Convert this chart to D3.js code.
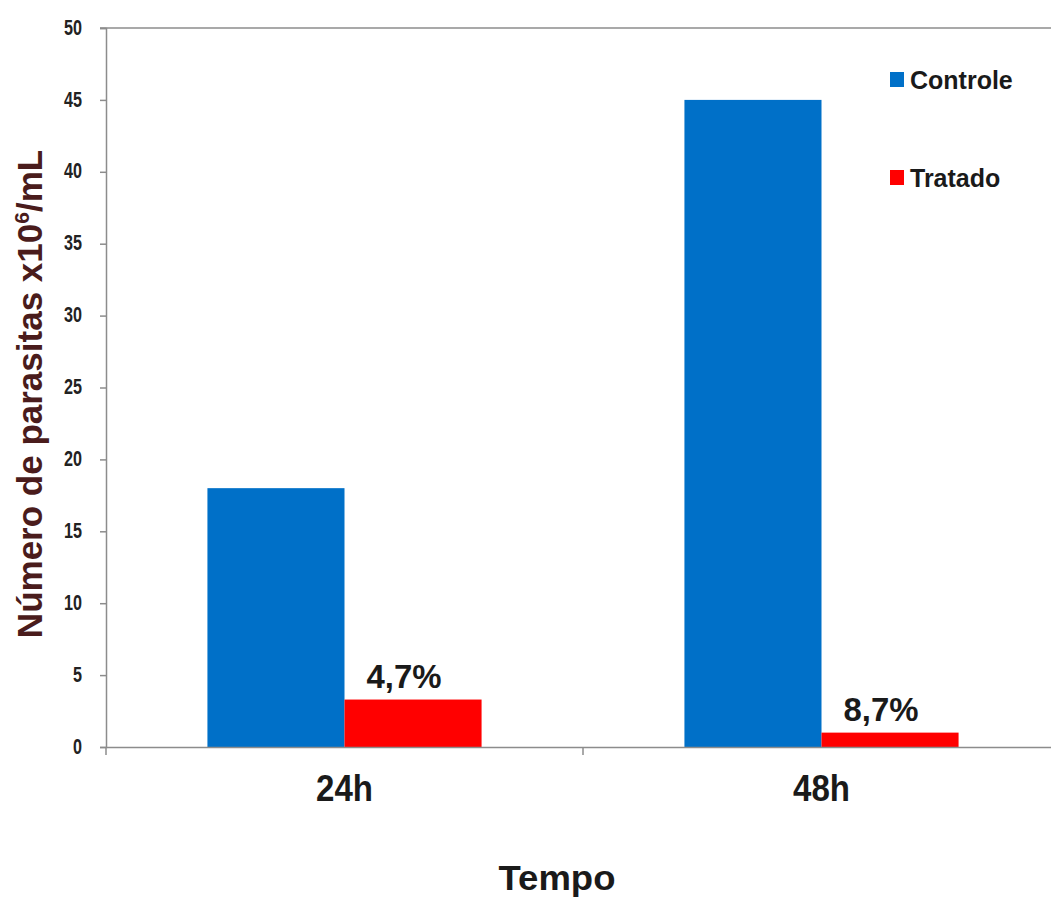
<!DOCTYPE html>
<html>
<head>
<meta charset="utf-8">
<script src="https://cdn.jsdelivr.net/npm/d3@7"></script>
<style>
  body { margin: 0; background: #fff; }
  svg { display: block; }
  text { font-family: "Liberation Sans", Arial, sans-serif; }
</style>
</head>
<body>
<svg id="chart" width="1051" height="897"></svg>
<script>
// data
const categories = ["24h", "48h"];
const series = ["Controle", "Tratado"];
const controle = [18, 45];
const tratado = [3.3, 1.0];
const barLabels = ["4,7%", "8,7%"];
const yTicks = [0, 5, 10, 15, 20, 25, 30, 35, 40, 45, 50];

const colors = { Controle: "#0070c8", Tratado: "#ff0000" };
const axisColor = "#8c8c8c";
const textColor = "#1a1a1a";

const width = 1051, height = 897;
const margins = [28, -9, 150, 106]; // top, right, bottom, left
const [mt, mr, mb, ml] = margins;

const svg = d3.select("#chart");

const rows = categories.map((c, i) => ({
  cat: c,
  values: [
    { key: "Controle", value: controle[i] },
    { key: "Tratado", value: tratado[i] }
  ],
  label: barLabels[i]
}));

const x0 = d3.scaleBand().domain(categories).range([ml, width - mr]).padding(0);
const x1 = d3.scaleBand().domain(series).range([0, x0.bandwidth()]).paddingInner(0).paddingOuter(0.74);
const y = d3.scaleLinear().domain([0, 50]).range([height - mb, mt]);

// top line
svg.append("line")
  .attr("x1", ml - 6).attr("x2", width)
  .attr("y1", y(50)).attr("y2", y(50))
  .attr("stroke", axisColor).attr("stroke-width", 1.5);

// y axis
const yAxis = svg.append("g")
  .attr("transform", `translate(${ml},0)`)
  .call(d3.axisLeft(y).tickValues(yTicks).tickSize(6).tickPadding(18));
yAxis.select(".domain").attr("stroke", axisColor).attr("stroke-width", 1.5);
yAxis.selectAll(".tick line").attr("stroke", axisColor).attr("stroke-width", 1.5);
yAxis.selectAll(".tick text")
  .attr("font-family", "Liberation Sans, Arial, sans-serif")
  .attr("font-size", 19).attr("font-weight", "bold").attr("fill", "#222")
  .attr("transform", "scale(0.85,1.15)")
  .attr("x", -24 / 0.85)
  .attr("dy", "0.28em");

// bars
const groups = svg.selectAll(".grp")
  .data(rows)
  .enter()
  .append("g")
  .attr("class", "grp")
  .attr("transform", (d) => `translate(${x0(d.cat)},0)`);

groups.selectAll("rect")
  .data((d) => d.values)
  .enter()
  .append("rect")
  .attr("x", (d) => x1(d.key))
  .attr("width", x1.bandwidth())
  .attr("y", (d) => y(d.value))
  .attr("height", (d) => y(0) - y(d.value))
  .attr("fill", (d) => colors[d.key]);

// percentage labels above tratado bars
groups.append("text")
  .attr("x", x1("Tratado") + x1.bandwidth() / 2 - 9)
  .attr("y", (d) => y(d.values[1].value) - 12)
  .attr("text-anchor", "middle")
  .attr("font-size", 33).attr("font-weight", "bold").attr("fill", textColor)
  .attr("textLength", 75).attr("lengthAdjust", "spacingAndGlyphs")
  .text((d) => d.label);

// x axis
const xAxis = svg.append("g")
  .attr("transform", `translate(0,${y(0)})`)
  .call(d3.axisBottom(x0).tickSize(0).tickPadding(28));
xAxis.select(".domain").attr("stroke", axisColor).attr("stroke-width", 1.5);
xAxis.selectAll(".tick text")
  .attr("font-family", "Liberation Sans, Arial, sans-serif")
  .attr("font-size", 37).attr("font-weight", "bold").attr("fill", textColor)
  .attr("textLength", 57).attr("lengthAdjust", "spacingAndGlyphs");

// category separators
const seps = [ml, ml + x0.step(), ml + 2 * x0.step()];
svg.selectAll(".sep")
  .data(seps)
  .enter()
  .append("line")
  .attr("class", "sep")
  .attr("x1", (d) => d).attr("x2", (d) => d)
  .attr("y1", y(0)).attr("y2", y(0) + 8)
  .attr("stroke", axisColor).attr("stroke-width", 1.5);

// axis titles
svg.append("text")
  .attr("x", 557).attr("y", 890)
  .attr("text-anchor", "middle")
  .attr("font-size", 35).attr("font-weight", "bold").attr("fill", textColor)
  .attr("textLength", 117).attr("lengthAdjust", "spacingAndGlyphs")
  .text("Tempo");

const yTitle = svg.append("text")
  .attr("transform", "translate(42,394) rotate(-90)")
  .attr("text-anchor", "middle")
  .attr("font-size", 35).attr("font-weight", "bold").attr("fill", "#4a1c1c");
yTitle.append("tspan").text("Número de parasitas x10");
yTitle.append("tspan").attr("dy", -13).attr("font-size", 21).text("6");
yTitle.append("tspan").attr("dy", 13).text("/mL");

// legend
const legend = svg.selectAll(".leg")
  .data(series)
  .enter()
  .append("g")
  .attr("class", "leg")
  .attr("transform", (d, i) => `translate(890,${72 + i * 98})`);

legend.append("rect")
  .attr("width", 14).attr("height", 15)
  .attr("fill", (d) => colors[d]);

legend.append("text")
  .attr("x", 20).attr("y", 17)
  .attr("font-size", 25).attr("font-weight", "bold").attr("fill", textColor)
  .text((d) => d);
</script>
</body>
</html>
